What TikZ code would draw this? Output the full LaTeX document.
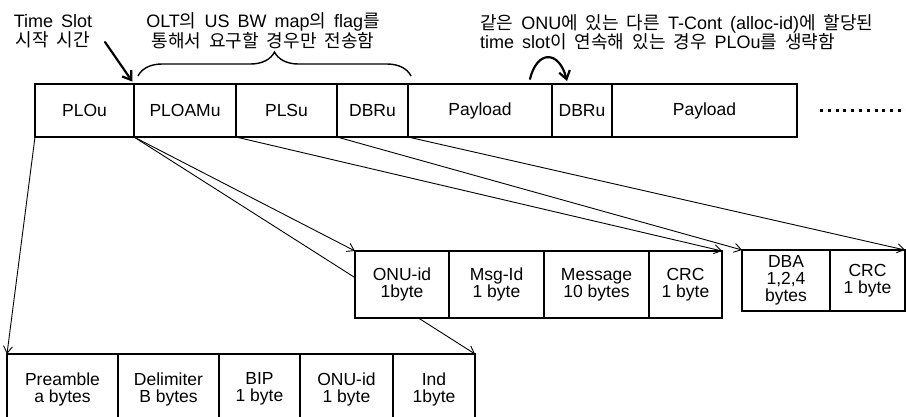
\documentclass[tikz,border=0pt]{standalone}
\usepackage{fontspec}
\setmainfont{Liberation Sans}
\newfontfamily\kr[Scale=1.0]{Noto Sans CJK KR}
\usetikzlibrary{arrows.meta,decorations.pathreplacing,positioning,backgrounds}
\newcommand{\fldfont}{\fontsize{17.5}{17}\selectfont}
\newcommand{\notefont}{\fontsize{18}{19.5}\selectfont\spaceskip=8pt plus 1pt}
\newcommand{\ksp}{\hspace{8pt}}% gap between Korean words
\tikzset{
  % one field of a frame, #1 = width
  fld/.style={draw, fill=white, line width=1.1pt, inner sep=0pt, outer sep=0pt,
              align=center, font=\fldfont, minimum width=#1},
  topfld/.style={fld={#1}, minimum height=53pt},
  midfld/.style={fld={#1}, minimum height=67pt},
  dbafld/.style={fld={#1}, minimum height=61pt},
  botfld/.style={fld={#1}, minimum height=70pt},
  % thin pointer from a field to its breakdown
  conn/.style={-{Straight Barb[length=7pt,width=9pt]}, line width=0.9pt},
  % heavy annotation arrow
  bigarrow/.style={-{Straight Barb[length=8pt,width=11pt]}, line width=2.2pt, line cap=round},
  % brace over the optional fields
  flagbrace/.style={decorate, decoration={brace, amplitude=24pt}, line width=1.4pt},
  % annotation text
  note/.style={align=center, font=\notefont, inner sep=0pt},
  % trailing dots
  dotrow/.style={line width=3pt, dash pattern=on 3pt off 4.8pt},
}

\begin{document}
\begin{tikzpicture}[x=1pt, y=-1pt]
  \useasboundingbox (0,0) rectangle (906,416);
  \clip (0,0) rectangle (906,416);

  % ===== upstream burst =====
  \node[topfld=99, anchor=north west] (plou) at (35,84) {PLOu};
  \node[topfld=102, right=0pt of plou] (ploam) {PLOAMu};
  \node[topfld=101, right=0pt of ploam] (plsu) {PLSu};
  \node[topfld=71, right=0pt of plsu] (dbru1) {DBRu};
  \node[topfld=144, right=0pt of dbru1] (pay1) {Payload};
  \node[topfld=60, right=0pt of pay1] (dbru2) {DBRu};
  \node[topfld=185, right=0pt of dbru2] (pay2) {Payload};
  \draw[dotrow] ([xshift=23pt]pay2.east) -- ++(86,0);

  % ===== notes above =====
  \node[note] (tslot) at (53,31) {Time Slot\\{\kr 시작\ksp 시간}};
  \coordinate (tsA) at (105,42);
  \draw[bigarrow, shorten >=3pt] (tsA) -- (plou.north east);

  \node[note] (flag) at (263,31) {OLT{\kr 의} US BW map{\kr 의} flag{\kr 를}\\{\kr 통해서\ksp 요구할\ksp 경우만\ksp 전송함}};
  \draw[flagbrace] ([shift={(4,-8)}]ploam.north west) -- ([shift={(3,-8)}]dbru1.north east);

  \node[note, align=left, anchor=west] (skip) at (480,32)
    {{\kr 같은} ONU{\kr 에\ksp 있는\ksp 다른} T-Cont (alloc-id){\kr 에\ksp 할당된}\\time slot{\kr 이\ksp 연속해\ksp 있는\ksp 경우} PLOu{\kr 를\ksp 생략함}};
  \coordinate (skipA) at (530,79);
  \coordinate (skipB) at (567,81);
  \draw[bigarrow] (skipA) .. controls (537,50) and (559,50) .. (skipB);

  % ===== PLOAMu breakdown =====
  \node[midfld=94, anchor=north west] (onu) at (355,251) {ONU-id\\1byte};
  \node[midfld=95, right=0pt of onu] (msgid) {Msg-Id\\1 byte};
  \node[midfld=105, right=0pt of msgid] (msg) {Message\\10 bytes};
  \node[midfld=73, right=0pt of msg] (crc1) {CRC\\1 byte};

  % ===== DBRu breakdown =====
  \node[dbafld=88, anchor=north west] (dba) at (742,250) {DBA\\1,2,4\\bytes};
  \node[dbafld=75, right=0pt of dba] (crc2) {CRC\\1 byte};

  % ===== PLOu breakdown =====
  \node[botfld=111, anchor=north west] (pre) at (7,354) {Preamble\\a bytes};
  \node[botfld=101, right=0pt of pre] (delim) {Delimiter\\B bytes};
  \node[botfld=81, right=0pt of delim] (bip) {BIP\\1 byte};
  \node[botfld=93, right=0pt of bip] (onu2) {ONU-id\\1 byte};
  \node[botfld=82, right=0pt of onu2] (ind) {Ind\\1byte};

  % ===== pointers =====
  \begin{scope}[on background layer]
    \draw[conn] (ploam.south west) -- (ind.north east);
  \end{scope}
  \draw[conn] (plou.south west) -- (pre.north west);
  \draw[conn] (ploam.south west) -- (onu.north west);
  \draw[conn] (plsu.south west) -- (crc1.north east);
  \draw[conn] (dbru1.south west) -- (dba.north west);
  \draw[conn] (pay1.south west) -- (crc2.north east);

\end{tikzpicture}
\end{document}
